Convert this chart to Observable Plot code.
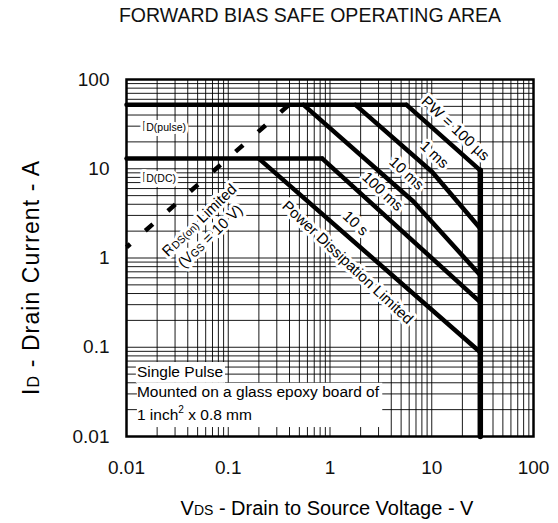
<!DOCTYPE html>
<html><head><meta charset="utf-8">
<script src="https://cdn.jsdelivr.net/npm/d3@7"></script>
<script src="https://cdn.jsdelivr.net/npm/@observablehq/plot@0.6"></script>
<style>
body{margin:0;background:#fff;font-family:"Liberation Sans",Arial,sans-serif;}
#title{width:558px;height:30px;line-height:30px;box-sizing:border-box;padding-left:62px;text-align:center;font-size:19.5px;color:#111;}
</style></head><body>
<div id="title">FORWARD BIAS SAFE OPERATING AREA</div>
<div id="chart"></div>
<script>
// ---- axes ----
const xTicks = [0.01, 0.1, 1, 10, 100];
const xTickLabels = ["0.01", "0.1", "1", "10", "100"];
const yTicks = [0.01, 0.1, 1, 10, 100];
const yTickLabels = ["0.01", "0.1", "1", "10", "100"];
const gridDecades = [0.01, 0.1, 1, 10];
const gridMultipliers = [1, 2, 3, 4, 5, 6, 7, 8, 9];

// ---- limit curves (V_DS in V, I_D in A) ----
const idPulseV = [0.01, 5.65];      const idPulseI = [52, 52];
const idDcV = [0.01, 0.84];         const idDcI = [13, 13];
const pw100usV = [5.65, 30];        const pw100usI = [52, 9.6];
const pw1msV = [1.78, 10.1, 30];    const pw1msI = [52, 9.2, 2.14];
const pw10msV = [0.55, 6.6, 30];    const pw10msI = [52, 4.3, 0.64];
const pw100msV = [0.84, 30];        const pw100msI = [13, 0.32];
const dc10sV = [0.2, 30];           const dc10sI = [13, 0.088];
const vdssV = [30, 30];             const vdssI = [9.6, 0.01];
const rdsOnV = [0.01, 0.395];       const rdsOnI = [1.32, 52];

// ---- annotation anchors (data coordinates) ----
const curveLabelText = ["PW = 100 \u00b5s", "1 ms", "10 ms", "100 ms", "10 s", "Power Dissipation Limited"];
const curveLabelV = [17.1, 10.6, 5.65, 3.28, 1.78, 1.49];
const curveLabelI = [28.2, 14.4, 8.85, 5.56, 2.44, 0.89];
const noteBoxX1 = [0.0128, 0.0125];
const noteBoxX2 = [3.3, 0.094];
const noteBoxY1 = [0.0126, 0.0395];
const noteBoxY2 = [0.0395, 0.0675];

const line = (V, I, opts = {}) => Plot.line(V.map((v, k) => [v, I[k]]), {x: d => d[0], y: d => d[1], stroke: "#000", strokeWidth: 4.5, strokeLinejoin: "miter", ...opts});

const gridVals = gridDecades.flatMap(d => gridMultipliers.map(m => +(d * m).toPrecision(3))).concat([100]);

const plot = Plot.plot({
  width: 558, height: 493,
  marginLeft: 126, marginRight: 25, marginTop: 49, marginBottom: 87,
  style: {fontFamily: "'Liberation Sans', Arial, sans-serif", background: "#fff", color: "#111"},
  x: {type: "log", domain: [0.01, 100]},
  y: {type: "log", domain: [0.01, 100]},
  marks: [
    Plot.ruleX(gridVals, {stroke: "#000", strokeWidth: 1, strokeOpacity: 0.9}),
    Plot.ruleY(gridVals, {stroke: "#000", strokeWidth: 1, strokeOpacity: 0.9}),
    Plot.rect(noteBoxX1.map((x1, k) => ({x1, x2: noteBoxX2[k], y1: noteBoxY1[k], y2: noteBoxY2[k]})), {x1: "x1", x2: "x2", y1: "y1", y2: "y2", fill: "#fff"}),
    line(idPulseV, idPulseI),
    line(idDcV, idDcI),
    line(pw100usV, pw100usI),
    line(pw1msV, pw1msI),
    line(pw10msV, pw10msI),
    line(pw100msV, pw100msI),
    line(dc10sV, dc10sI),
    line(vdssV, vdssI, {strokeWidth: 5.5}),
    line(rdsOnV, rdsOnI, {strokeDasharray: "10,20", strokeDashoffset: 5, strokeLinecap: "butt"}),
    Plot.text(curveLabelText, {x: (d, k) => curveLabelV[k], y: (d, k) => curveLabelI[k], text: d => d, rotate: 43, fontSize: 15, fill: "#000", stroke: "#fff", strokeWidth: 6}),
    Plot.frame({stroke: "#000", strokeWidth: 2.5}),
    Plot.axisX(xTicks, {tickSize: 0, tickPadding: 24, fontSize: 19, tickFormat: d => xTickLabels[xTicks.indexOf(d)], label: null}),
    Plot.axisY(yTicks, {tickSize: 0, tickPadding: 17, fontSize: 19, tickFormat: d => yTickLabels[yTicks.indexOf(d)], label: null})
  ]
});
document.getElementById("chart").appendChild(plot);

// rich text (subscripts) placed through the plot's scales
const sx = plot.scale("x"), sy = plot.scale("y");
const svg = d3.select(plot);
function rich(parts, px, py, {anchor = "start", angle = 0, size = 15, halo = 0, length = 0} = {}) {
  const t = svg.append("text")
    .attr("transform", `translate(${px},${py}) rotate(${angle})`)
    .attr("text-anchor", anchor).attr("y", size * 0.35)
    .attr("font-family", "'Liberation Sans', Arial, sans-serif")
    .attr("font-size", size).attr("fill", "#000");
  if (halo) t.attr("stroke", "#fff").attr("stroke-width", halo).attr("stroke-linejoin", "round").attr("paint-order", "stroke");
  if (length) t.attr("textLength", length).attr("lengthAdjust", "spacing");
  for (const p of parts) {
    const s = t.append("tspan").text(p.t);
    if (p.s) s.attr("font-size", size * p.s);
    if (p.up) s.attr("dy", -size * 0.45);
    if (p.down) s.attr("dy", size * 0.45);
  }
  return t;
}
const at = (v, i) => [sx.apply(v), sy.apply(i)];
rich([{t: "I"}, {t: "D(pulse)", s: 0.7}], ...at(0.0144, 29.7), {size: 15, halo: 6});
rich([{t: "I"}, {t: "D(DC)", s: 0.7}], ...at(0.0144, 7.98), {size: 15, halo: 6});
rich([{t: "R"}, {t: "DS(on)", s: 0.7}, {t: " Limited"}], ...at(0.0522, 2.63), {anchor: "middle", angle: -44, size: 15, halo: 6});
rich([{t: "(V"}, {t: "GS", s: 0.7}, {t: " = 10 V)"}], ...at(0.0669, 1.74), {anchor: "middle", angle: -44, size: 15, halo: 6});
rich([{t: "Single Pulse"}], ...at(0.0128, 0.0521), {size: 15.5});
rich([{t: "Mounted on a glass epoxy board of"}], ...at(0.0128, 0.0311), {size: 15.5});
rich([{t: "1 inch"}, {t: "2", s: 0.65, up: true}, {t: " x 0.8 mm", down: true}], ...at(0.0128, 0.0172), {size: 15.5});
// axis titles
rich([{t: "V"}, {t: "DS", s: 0.7}, {t: " - Drain to Source Voltage - V"}], 327, 478, {anchor: "middle", size: 20});
rich([{t: "I"}, {t: "D", s: 0.7}, {t: " - Drain Current - A"}], 31, 248, {anchor: "middle", angle: -90, size: 23, length: 234});
</script></body></html>
